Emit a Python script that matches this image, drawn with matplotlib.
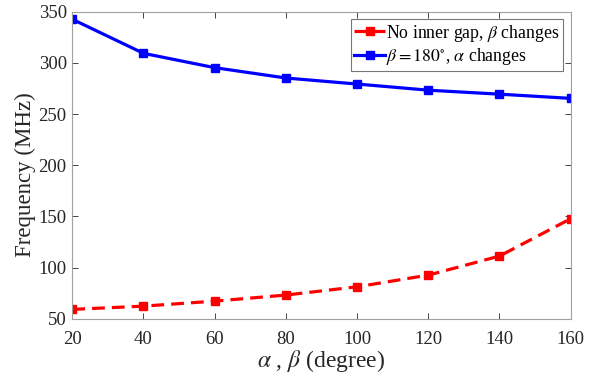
import matplotlib
matplotlib.use("Agg")
import matplotlib.pyplot as plt

plt.rcParams['font.family'] = ['Liberation Serif', 'DejaVu Serif']
plt.rcParams['mathtext.fontset'] = 'stix'

angles = [20, 40, 60, 80, 100, 120, 140, 160]
freq_no_gap = [59.1, 62.3, 67.2, 73.1, 81.2, 92.6, 111.2, 147.7]
freq_beta180 = [342.6, 309.3, 295.3, 285.2, 279.3, 273.3, 269.4, 265.3]
label_no_gap = r'No inner gap, $\beta$ changes'
label_beta180 = r'$\beta = 180^{\circ}$, $\alpha$ changes'
xticks = [20, 40, 60, 80, 100, 120, 140, 160]
yticks = [50, 100, 150, 200, 250, 300, 350]

fig = plt.figure(figsize=(6.03, 3.77), dpi=100)
ax = fig.add_axes([0.1199, 0.1546, 0.8265, 0.8144])

ax.plot(angles, freq_no_gap, color='#ff0000', linestyle=(0, (4, 2.2)), linewidth=2.3,
        marker='s', markersize=5.5, label=label_no_gap)
ax.plot(angles, freq_beta180, color='#0000ff', linestyle='-', linewidth=2.3,
        marker='s', markersize=5.5, label=label_beta180)

ax.set_xlim(20, 160)
ax.set_ylim(50, 350)
ax.set_xticks(xticks)
ax.set_yticks(yticks)
ax.tick_params(direction='in', top=True, right=True, labelsize=13.5, colors='#262626',
               length=4, width=0.6)
ax.tick_params(axis='x', pad=9)
ax.tick_params(axis='y', pad=4)
for s in ax.spines.values():
    s.set_color('#a0a0a0')
    s.set_linewidth(0.8)

ax.set_xlabel(r'$\alpha$ , $\beta$ (degree)', fontsize=17, color='#262626', labelpad=0)
ax.set_ylabel('Frequency (MHz)', fontsize=16.5, color='#262626', labelpad=3)
ax.yaxis.set_label_coords(-0.072, 0.47)

leg = ax.legend(loc='upper right', fontsize=12.8, frameon=True, fancybox=False,
                edgecolor='#555555', handlelength=1.75, handletextpad=0.05,
                borderpad=0.2, labelspacing=0.15, borderaxespad=0.42)
leg.get_frame().set_linewidth(0.8)

fig.savefig('out.png', dpi=100)
